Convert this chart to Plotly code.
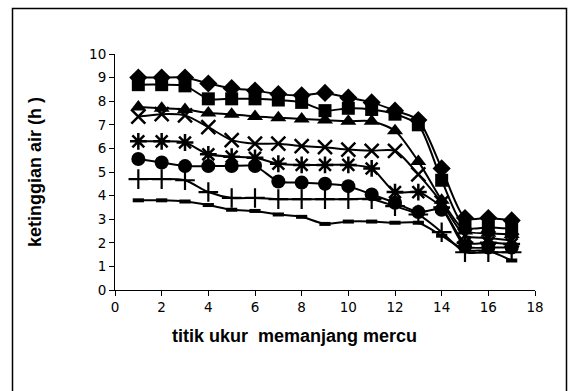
import plotly.graph_objects as go

x_points = list(range(1, 18))

diamond = [9.0, 9.0, 9.0, 8.75, 8.55, 8.45, 8.3, 8.25, 8.35, 8.15, 7.95, 7.6, 7.2, 5.15, 3.05, 3.05, 2.95]
square = [8.7, 8.7, 8.65, 8.1, 8.1, 8.1, 8.05, 7.95, 7.6, 7.7, 7.65, 7.45, 7.0, 4.65, 2.65, 2.65, 2.6]
triangle = [7.75, 7.7, 7.65, 7.5, 7.45, 7.35, 7.3, 7.25, 7.2, 7.15, 7.15, 6.75, 5.45, 3.8, 2.5, 2.4, 2.35]
xmark = [7.35, 7.45, 7.4, 6.9, 6.35, 6.2, 6.2, 6.1, 6.05, 5.95, 5.9, 5.9, 4.9, 3.7, 2.3, 2.2, 2.1]
aster = [6.3, 6.3, 6.25, 5.75, 5.65, 5.6, 5.35, 5.3, 5.3, 5.3, 5.15, 4.15, 4.15, 3.5, 2.0, 2.0, 1.95]
circle = [5.55, 5.4, 5.25, 5.25, 5.25, 5.25, 4.6, 4.55, 4.5, 4.4, 4.05, 3.7, 3.3, 3.4, 1.85, 1.8, 1.8]
plus = [4.7, 4.7, 4.65, 4.15, 3.9, 3.9, 3.85, 3.85, 3.85, 3.85, 3.85, 3.55, 3.2, 2.45, 1.6, 1.6, 1.6]
dash = [3.8, 3.8, 3.75, 3.6, 3.4, 3.35, 3.2, 3.1, 2.8, 2.9, 2.9, 2.85, 2.85, 2.3, 1.7, 1.65, 1.25]

x_title = "titik ukur  memanjang mercu"
y_title = "ketinggian air (h )"

series = [
    (dash, dict(symbol="line-ew-open", size=8, line=dict(width=4, color="black"))),
    (plus, dict(symbol="cross-thin-open", size=14, line=dict(width=2.2, color="black"))),
    (circle, dict(symbol="circle", size=14, color="black")),
    (aster, dict(symbol="asterisk-open", size=14, line=dict(width=2.5, color="black"))),
    (xmark, dict(symbol="x-thin-open", size=14, line=dict(width=2.5, color="black"))),
    (triangle, dict(symbol="triangle-up", size=14, color="black")),
    (square, dict(symbol="square", size=13, color="black")),
    (diamond, dict(symbol="diamond", size=14, color="black")),
]

fig = go.Figure()
for vals, mk in series:
    fig.add_trace(go.Scatter(
        x=x_points, y=vals, mode="lines+markers",
        line=dict(color="black", width=2, shape="spline", smoothing=0.7),
        marker=mk, showlegend=False,
    ))

L, R, T, B = 115, 535, 54, 290
W, H = 576, 391

def px(xp):
    return (xp - L) / (R - L)

def py(yp):
    return (B - yp) / (B - T)

fig.add_shape(type="rect", xref="paper", yref="paper",
              x0=px(12.5), x1=px(566.5), y0=py(395), y1=py(8.5),
              line=dict(color="black", width=1.5), fillcolor="rgba(0,0,0,0)")

fig.add_annotation(xref="paper", yref="paper", x=px(294), y=py(336),
                   text="<b>" + x_title + "</b>", showarrow=False,
                   font=dict(size=18), xanchor="center", yanchor="middle")
fig.add_annotation(xref="paper", yref="paper", x=px(35), y=py(172),
                   text="<b>" + y_title + "</b>", showarrow=False, textangle=-90,
                   font=dict(size=18), xanchor="center", yanchor="middle")

tick_font = dict(family="DejaVu Sans, Liberation Sans, sans-serif", size=13.5)

fig.update_layout(
    width=W, height=H,
    margin=dict(l=L, r=W - R, t=T, b=H - B),
    paper_bgcolor="white", plot_bgcolor="white",
    font=dict(family="Liberation Sans, Arial, sans-serif", color="black", size=14),
    xaxis=dict(range=[0, 18], tickmode="linear", tick0=0, dtick=2,
               showgrid=False, zeroline=False, showline=True, linecolor="black", linewidth=1,
               ticks="outside", ticklen=5, tickcolor="black", tickfont=tick_font),
    yaxis=dict(range=[0, 10], tickmode="linear", tick0=0, dtick=1,
               showgrid=False, zeroline=False, showline=True, linecolor="black", linewidth=1,
               ticks="outside", ticklen=5, tickcolor="black", tickfont=tick_font),
)

fig.write_html("out.html")
